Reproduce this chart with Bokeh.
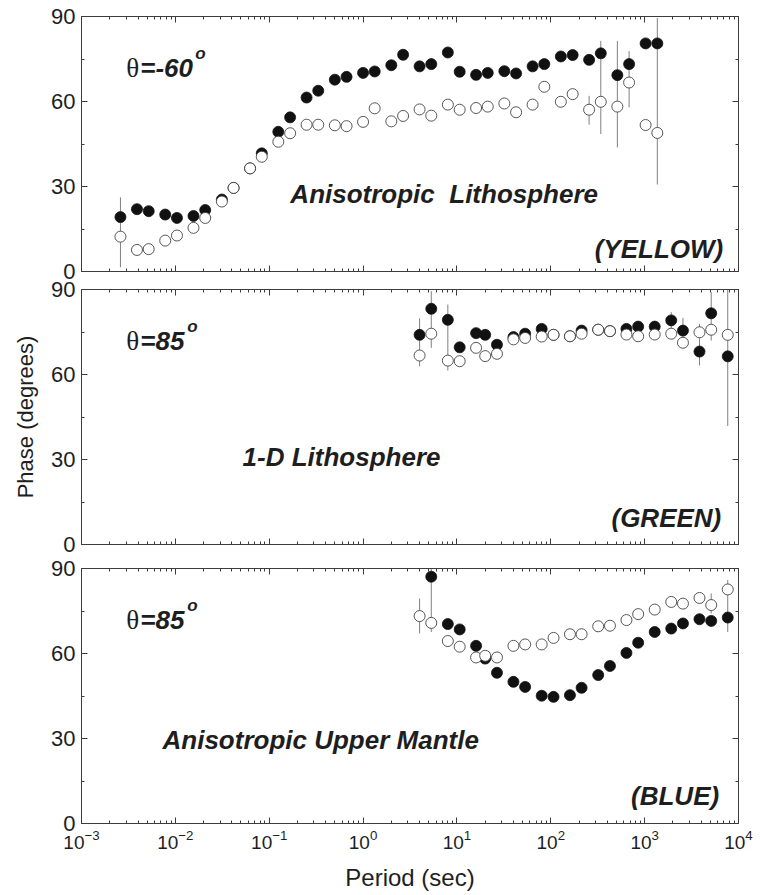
import numpy as np
from bokeh.plotting import figure
from bokeh.layouts import column
from bokeh.models import ColumnDataSource, LogAxis, LinearAxis, FixedTicker, Range1d
from bokeh.core.properties import value
from bokeh.embed import file_html
from bokeh.resources import INLINE

# ---------------- data ----------------
x_major_ticks = [1e-3, 1e-2, 1e-1, 1e0, 1e1, 1e2, 1e3, 1e4]
y_major_ticks = [0, 30, 60, 90]
y_minor_ticks = [15, 45, 75]

# Panel 1: theta = -60, Anisotropic Lithosphere (YELLOW)
top_period = [0.0026, 0.0039, 0.0052, 0.0078, 0.0104, 0.0156, 0.0208, 0.0313, 0.0417,
              0.0625, 0.0833, 0.125, 0.167, 0.25, 0.333, 0.5, 0.667, 1.0, 1.33, 2.0,
              2.67, 4.0, 5.33, 8.0, 10.7, 16.0, 21.3, 32.0, 42.7, 64.0, 85.3, 128.0,
              171.0, 256.0, 341.0, 512.0, 683.0, 1024.0, 1365.0]
top_filled = [19.2, 22.0, 21.3, 20.1, 18.9, 19.6, 21.7, 25.4, 29.5, 36.4, 41.7, 49.3, 54.4,
              61.4, 63.8, 67.7, 68.7, 70.1, 70.6, 72.8, 76.5, 72.4, 73.2, 77.3, 70.5, 69.4,
              70.1, 70.7, 69.9, 72.4, 73.2, 75.9, 76.4, 74.7, 77.0, 69.3, 73.2, 80.5, 80.5]
top_open = [12.3, 7.6, 7.9, 10.9, 12.7, 15.4, 18.9, 24.7, 29.5, 36.4, 40.5, 45.8, 48.8,
            51.8, 51.8, 51.6, 51.3, 52.8, 57.6, 53.0, 54.9, 57.2, 55.0, 58.9, 57.1, 57.7,
            58.2, 59.3, 56.2, 58.9, 65.2, 59.9, 62.6, 57.1, 59.9, 58.2, 66.7, 51.7, 48.9]
top_err_period = [0.0026, 256.0, 341.0, 512.0, 683.0, 1365.0]
top_err_low = [1.5, 51.8, 48.5, 43.8, 57.9, 30.7]
top_err_high = [26.2, 62.0, 81.4, 81.4, 77.8, 89.5]

# Panels 2 and 3 share the period list
mt_period = [4.0, 5.33, 8.0, 10.7, 16.0, 20.0, 26.7, 40.0, 53.3, 80.0, 107.0, 160.0,
             213.0, 320.0, 427.0, 640.0, 853.0, 1280.0, 1920.0, 2560.0, 3840.0, 5120.0, 7680.0]

# Panel 2: theta = 85, 1-D Lithosphere (GREEN)
mid_filled = [74.0, 83.2, 79.3, 69.6, 74.6, 74.0, 70.5, 73.2, 74.4, 76.1, 74.0, 73.5,
              75.5, 75.8, 75.3, 76.1, 76.9, 76.9, 79.1, 75.5, 68.1, 81.6, 66.4]
mid_open = [66.7, 74.4, 64.9, 64.7, 69.4, 66.5, 67.3, 72.4, 72.9, 73.4, 74.0, 73.5,
            74.4, 75.8, 75.3, 74.1, 73.5, 74.1, 74.4, 71.2, 74.9, 75.8, 74.0]
mid_err_period = [4.0, 5.33, 8.0, 1920.0, 2560.0, 3840.0, 5120.0, 7680.0]
mid_err_low = [62.9, 69.4, 61.4, 76.0, 70.0, 63.2, 72.0, 41.8]
mid_err_high = [79.8, 89.4, 84.7, 82.0, 80.0, 77.9, 89.0, 90.0]

# Panel 3: theta = 85, Anisotropic Upper Mantle (BLUE); first filled value is off-scale
bot_filled_period = [5.33, 8.0, 10.7, 16.0, 20.0, 26.7, 40.0, 53.3, 80.0, 107.0, 160.0,
                     213.0, 320.0, 427.0, 640.0, 853.0, 1280.0, 1920.0, 2560.0, 3840.0,
                     5120.0, 7680.0]
bot_filled = [87.1, 70.4, 68.5, 62.7, 58.2, 53.2, 50.0, 48.2, 45.1, 44.7, 45.3,
              47.9, 52.4, 55.6, 60.2, 63.8, 67.6, 68.8, 70.6, 72.1, 71.5, 72.7]
bot_open = [73.2, 70.8, 64.4, 62.4, 58.6, 59.2, 58.6, 62.7, 63.2, 63.2, 65.5, 66.8,
            66.8, 69.6, 69.8, 71.8, 73.9, 75.5, 78.2, 77.6, 79.6, 77.1, 82.6]
bot_err_period = [4.0, 5.33, 5120.0, 7680.0]
bot_err_low = [67.1, 67.6, 74.1, 67.6]
bot_err_high = [79.4, 90.0, 81.2, 85.9]

# annotation texts and anchors (period, phase)
theta_texts = ["=-60", "=85", "=85"]
theta_anchor = (0.003, 72.0)
model_texts = ["Anisotropic\u00a0 Lithosphere", "1-D Lithosphere", "Anisotropic Upper Mantle"]
model_anchor = [(0.168, 27.5), (0.052, 30.8), (0.0073, 29.3)]
color_texts = ["(YELLOW)", "(GREEN)", "(BLUE)"]
color_anchor = [(6870.0, 8.1), (6550.0, 9.4), (6220.0, 9.8)]

# ---------------- styling ----------------
SANS = "Liberation Sans"
SERIF = "Liberation Serif"
AX = "#3c3c3c"
TXT = "#1e1e1e"
x_minor_ticks = [m * d for d in x_major_ticks[:-1] for m in range(2, 10)]


def style_axis(ax, labels):
    ax.axis_line_color = AX
    ax.axis_line_width = 1
    ax.major_tick_line_color = AX
    ax.minor_tick_line_color = AX
    ax.major_tick_in = 6
    ax.major_tick_out = 0
    ax.minor_tick_in = 3
    ax.minor_tick_out = 0
    ax.major_label_text_font = SANS
    ax.major_label_text_color = TXT
    if not labels:
        ax.major_label_text_font_size = "2px"
        ax.major_label_text_alpha = 0.0
        ax.major_label_standoff = 0


def make_panel(height, btop, bbottom, fper, filled, oper, opened, ep, elo, ehi, idx, bottom):
    p = figure(width=760, height=height, x_axis_type="log",
               x_range=Range1d(1e-3, 1e4), y_range=Range1d(0, 90),
               output_backend="svg", toolbar_location=None,
               min_border_left=81, min_border_right=22,
               min_border_top=btop, min_border_bottom=bbottom)
    p.grid.visible = False
    p.outline_line_color = AX
    p.background_fill_color = "white"
    p.border_fill_color = "white"

    xt = FixedTicker(ticks=x_major_ticks, minor_ticks=x_minor_ticks)
    yt = FixedTicker(ticks=y_major_ticks, minor_ticks=y_minor_ticks)

    xa = p.xaxis[0]
    xa.ticker = xt
    style_axis(xa, bottom)
    if bottom:
        xa.major_label_text_font_size = "19px"
        xa.major_label_standoff = 6
        xa.axis_label = "Period (sec)"
        xa.axis_label_text_font = SANS
        xa.axis_label_text_font_style = "normal"
        xa.axis_label_text_font_size = "24px"
        xa.axis_label_text_color = TXT
        xa.axis_label_standoff = 12

    ya = p.yaxis[0]
    ya.ticker = yt
    style_axis(ya, True)
    ya.major_label_text_font_size = "22px"
    ya.major_label_standoff = 6
    if idx == 1:
        ya.axis_label = "Phase (degrees)"
        ya.axis_label_text_font = SANS
        ya.axis_label_text_font_style = "normal"
        ya.axis_label_text_font_size = "22px"
        ya.axis_label_text_color = TXT
        ya.axis_label_standoff = 10

    top_ax = LogAxis(ticker=xt)
    style_axis(top_ax, False)
    p.add_layout(top_ax, "above")
    right_ax = LinearAxis(ticker=yt)
    style_axis(right_ax, False)
    p.add_layout(right_ax, "right")

    esrc = ColumnDataSource(dict(x=ep, lo=elo, hi=ehi))
    p.segment(x0="x", y0="lo", x1="x", y1="hi", source=esrc,
              line_color="#808080", line_width=1)

    fsrc = ColumnDataSource(dict(x=fper, y=filled))
    osrc = ColumnDataSource(dict(x=oper, y=opened))
    p.scatter(x="x", y="y", source=fsrc, size=11, marker="circle",
              fill_color="#111111", line_color="#111111", line_width=0.8)
    p.scatter(x="x", y="y", source=osrc, size=11, marker="circle",
              fill_color="white", line_color="#444444", line_width=0.9)

    tx, ty = theta_anchor
    p.text(x=[tx], y=[ty], text=["θ"], text_font=value(SERIF), text_font_size="27px",
           text_color=TXT, text_baseline="alphabetic", text_align="left")
    p.text(x=[tx], y=[ty], text=[theta_texts[idx]], x_offset=14,
           text_font=value(SANS), text_font_style="bold italic", text_font_size="26px",
           text_color=TXT, text_baseline="alphabetic", text_align="left")
    o_off = 69 if idx == 0 else 61
    p.text(x=[tx], y=[ty], text=["o"], x_offset=o_off, y_offset=-14,
           text_font=value(SANS), text_font_style="bold italic", text_font_size="17px",
           text_color=TXT, text_baseline="alphabetic", text_align="left")

    mx, my = model_anchor[idx]
    p.text(x=[mx], y=[my], text=[model_texts[idx]], text_font=value(SANS),
           text_font_style="bold italic", text_font_size="26px", text_color=TXT,
           text_baseline="alphabetic", text_align="left")
    cx, cy = color_anchor[idx]
    p.text(x=[cx], y=[cy], text=[color_texts[idx]], text_font=value(SANS),
           text_font_style="bold italic", text_font_size="26px", text_color=TXT,
           text_baseline="alphabetic", text_align="right")
    return p


p1 = make_panel(280, 16, 9, top_period, top_filled, top_period, top_open,
                top_err_period, top_err_low, top_err_high, 0, False)
p2 = make_panel(276, 9, 12, mt_period, mid_filled, mt_period, mid_open,
                mid_err_period, mid_err_low, mid_err_high, 1, False)
p3 = make_panel(338, 12, 71, bot_filled_period, bot_filled, mt_period, bot_open,
                bot_err_period, bot_err_low, bot_err_high, 2, True)

layout = column(p1, p2, p3, spacing=0)
open("out.html", "w").write(file_html(layout, INLINE))
